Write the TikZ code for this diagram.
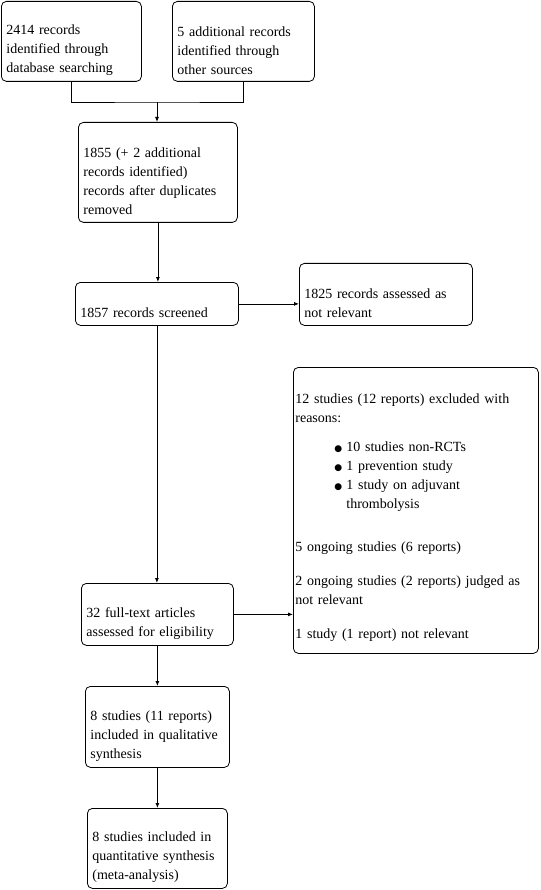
\documentclass[tikz,border=0pt]{standalone}
\usepackage{fontspec}
\setmainfont{Liberation Serif}
\newfontfamily\symfont{DejaVu Sans}
\usetikzlibrary{arrows.meta}
\newcommand{\toppad}{\rule{0pt}{28pt}}
\newcommand{\bulitem}[1]{\hspace*{39pt}\makebox[12pt][l]{{\symfont\fontsize{9}{9}\selectfont ●}}#1}

\begin{document}
\begin{tikzpicture}[x=1pt,y=-1pt,
  box/.style={draw, line width=0.8pt, rounded corners=5pt, anchor=north west, align=left,
    inner xsep=5pt, inner ysep=0pt, font=\fontsize{14}{19}\selectfont},
  arr/.style={-{Latex[length=5pt,width=4pt]}, line width=0.8pt}]
\useasboundingbox (0,0) rectangle (540,890);

% identification
\node[box, text width=130pt, minimum height=80pt] (dbsearch) at (1,1)
  {\toppad 2414 records\\identified through\\database searching};
\node[box, text width=132pt, minimum height=80pt] (othersrc) at (172,1)
  {\toppad 5 additional records\\identified through\\other sources};
\node[box, text width=149pt, minimum height=100pt] (dedup) at (78,122)
  {\toppad 1855 (+ 2 additional\\records identified)\\records after duplicates\\removed};

% screening
\node[box, text width=153pt, minimum height=43pt] (screened) at (75,282)
  {\toppad 1857 records screened};
\node[box, text width=163pt, minimum height=62pt] (notrel) at (299,263)
  {\toppad 1825 records assessed as\\not relevant};

% eligibility
\node[box, text width=142pt, minimum height=62pt] (fulltext) at (81,583)
  {\toppad 32 full-text articles\\assessed for eligibility};
\node[box, text width=241pt, minimum height=286pt, inner xsep=2pt] (excluded) at (293,367)
  {\rule{0pt}{24pt}12 studies (12 reports) excluded with\\reasons:\\[10pt]
   \bulitem{10 studies non-RCTs}\\
   \bulitem{1 prevention study}\\
   \bulitem{1 study on adjuvant}\\
   \hspace*{51pt}thrombolysis\\[24pt]
   5 ongoing studies (6 reports)\\[15pt]
   2 ongoing studies (2 reports) judged as\\not relevant\\[15pt]
   1 study (1 report) not relevant};

% included
\node[box, text width=134pt, minimum height=81pt] (qualsyn) at (85,686)
  {\toppad 8 studies (11 reports)\\included in qualitative\\synthesis};
\node[box, text width=130pt, minimum height=80pt] (quantsyn) at (87,808)
  {\toppad 8 studies included in\\quantitative synthesis\\(meta-analysis)};

\coordinate (join) at (157,102);
\draw[line width=0.8pt] (dbsearch.south) |- (join) -| (othersrc.south);
\draw[arr] (join) -- (join |- dedup.north);
\draw[arr] (dedup.south) -- (dedup.south |- screened.north);
\draw[arr] (screened.east) -- (screened.east -| notrel.west);
\draw[arr] (screened.south) -- (screened.south |- fulltext.north);
\draw[arr] (fulltext.east) -- (fulltext.east -| excluded.west);
\draw[arr] (fulltext.south) -- (fulltext.south |- qualsyn.north);
\draw[arr] (qualsyn.south) -- (qualsyn.south |- quantsyn.north);

\end{tikzpicture}
\end{document}
